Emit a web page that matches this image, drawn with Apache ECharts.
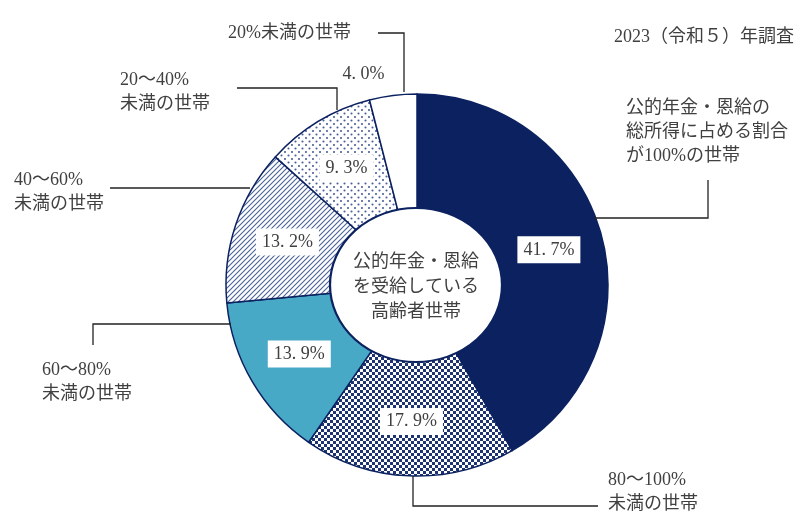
<!DOCTYPE html>
<html>
<head>
<meta charset="utf-8">
<script src="https://cdn.jsdelivr.net/npm/echarts@6/dist/echarts.min.js"></script>
<style>
  html, body { margin: 0; padding: 0; background: #fff; }
  #chart { width: 799px; height: 521px; }
</style>
</head>
<body>
<div id="chart"></div>
<script>
// categories (share of public pension in total income), clockwise from top
const categories = [
  "公的年金・恩給の\n総所得に占める割合\nが100%の世帯",
  "80～100%\n未満の世帯",
  "60～80%\n未満の世帯",
  "40～60%\n未満の世帯",
  "20～40%\n未満の世帯",
  "20%未満の世帯"
];
const shares = [41.7, 17.9, 13.9, 13.2, 9.3, 4.0];
const centerText = "公的年金・恩給\nを受給している\n高齢者世帯";
const surveyNote = "2023（令和５）年調査";

const NAVY = "#0b2160";
const LIGHT_BLUE = "#48a9c7";
const TEXT = "#404040";
const FONT = "'Liberation Serif', 'Noto Sans CJK JP', serif";

// fill patterns
function makePattern(size, draw) {
  const c = document.createElement("canvas");
  c.width = size; c.height = size;
  const ctx = c.getContext("2d");
  ctx.fillStyle = "#fff";
  ctx.fillRect(0, 0, size, size);
  draw(ctx);
  return { image: c, repeat: "repeat" };
}
const checker = makePattern(6, (ctx) => {
  ctx.fillStyle = "#1d3470";
  ctx.fillRect(0, 0, 3, 3);
  ctx.fillRect(3, 3, 3, 3);
});
const stripes = makePattern(5, (ctx) => {
  ctx.strokeStyle = "#4a6298";
  ctx.lineWidth = 1.1;
  ctx.beginPath();
  ctx.moveTo(-1, 6); ctx.lineTo(6, -1);
  ctx.moveTo(-1, 1); ctx.lineTo(1, -1);
  ctx.moveTo(4, 6); ctx.lineTo(6, 4);
  ctx.stroke();
});
const dots = makePattern(7, (ctx) => {
  ctx.fillStyle = "#4a5f98";
  ctx.beginPath(); ctx.arc(1.5, 1.5, 1.05, 0, Math.PI * 2); ctx.fill();
  ctx.beginPath(); ctx.arc(5, 5, 1.05, 0, Math.PI * 2); ctx.fill();
});
const fills = [NAVY, checker, LIGHT_BLUE, stripes, dots, "#ffffff"];

// callout layout (text anchor and leader line), same order as categories
const callouts = [
  { x: 626, y: 108, line: [[708, 180], [708, 218], [594, 218]] },
  { x: 608, y: 480, line: [[413, 476], [413, 506], [598, 506]] },
  { x: 42, y: 370, line: [[93, 345], [93, 324], [231, 324]] },
  { x: 14, y: 180, line: [[110, 188], [250, 188]] },
  { x: 120, y: 80, line: [[237, 88], [337, 88], [337, 110]] },
  { x: 228, y: 33, line: [[378, 33], [404, 33], [404, 92]] }
];

const fmt = (v) => v.toFixed(1).replace(".", ". ") + "%";

const pieData = shares.map((v, i) => {
  const item = {
    name: categories[i],
    value: v,
    itemStyle: { color: fills[i] }
  };
  if (i === shares.length - 1) {
    item.label = {
      position: "outside",
      backgroundColor: "transparent",
      padding: 0
    };
    item.labelLine = { show: false, length: 21, length2: 1 };
  }
  return item;
});

const graphics = [];
graphics.push({
  type: "circle",
  shape: { cx: 0, cy: 0, r: 77 },
  x: 416, y: 285,
  scaleX: 86 / 77,
  style: { fill: "#fff", stroke: NAVY, lineWidth: 2 },
  z: 20
});
graphics.push({
  type: "text",
  x: 416, y: 287,
  style: {
    text: centerText, fill: TEXT, font: "18px " + FONT,
    textAlign: "center", textVerticalAlign: "middle", lineHeight: 25
  },
  z: 21
});
graphics.push({
  type: "text",
  x: 614, y: 37,
  style: {
    text: surveyNote, fill: TEXT, font: "18px " + FONT,
    textAlign: "left", textVerticalAlign: "middle"
  },
  z: 21
});
categories.forEach((name, i) => {
  const c = callouts[i];
  graphics.push({
    type: "text",
    x: c.x, y: c.y - 12,
    style: {
      text: name, fill: TEXT, font: "18px " + FONT,
      textAlign: "left", textVerticalAlign: "top", lineHeight: 24
    },
    z: 21
  });
  graphics.push({
    type: "polyline",
    shape: { points: c.line },
    style: { stroke: "#222", lineWidth: 1.3, fill: null },
    z: 21
  });
});

const chart = echarts.init(document.getElementById("chart"));
chart.setOption({
  backgroundColor: "#fff",
  animation: false,
  graphic: graphics,
  series: [
    {
      type: "pie",
      center: [417, 285],
      radius: [76, 191],
      startAngle: 90,
      clockwise: true,
      avoidLabelOverlap: false,
      itemStyle: { borderColor: NAVY, borderWidth: 1.5 },
      label: {
        show: true,
        position: "inside",
        formatter: (p) => fmt(p.value),
        fontFamily: FONT,
        fontSize: 18,
        color: TEXT,
        backgroundColor: "#fff",
        padding: [5, 6, 4, 6]
      },
      labelLine: { show: false },
      emphasis: { disabled: true },
      data: pieData
    }
  ]
});
</script>
</body>
</html>
